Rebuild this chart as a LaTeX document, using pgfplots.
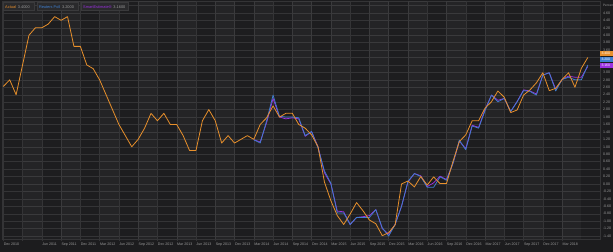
\documentclass[border=0pt]{standalone}
\usepackage{fontspec}
\setmainfont{Liberation Sans}
\usepackage{pgfplots}
\usepackage{pgfplotstable}
\pgfplotsset{compat=1.18}
\definecolor{outerbg}{HTML}{1C1C1E}
\definecolor{banddark}{HTML}{1D1D1F}
\definecolor{gridc}{HTML}{343436}
\definecolor{tickc}{HTML}{9A9A9A}
\definecolor{actual}{HTML}{E8902C}
\definecolor{poll}{HTML}{3F7FD0}
\definecolor{smart}{HTML}{9B30E0}
\definecolor{legbg}{HTML}{2A2A2C}
\definecolor{legbd}{HTML}{3A3A3C}

\pgfplotstableread{
i v
0 2.62
1 2.80
2 2.40
3 3.20
4 4.00
5 4.20
6 4.20
7 4.30
8 4.50
9 4.40
10 4.50
11 3.70
12 3.70
13 3.20
14 3.10
15 2.80
16 2.40
17 2.00
18 1.60
19 1.30
20 1.00
21 1.20
22 1.50
23 1.90
24 1.70
25 1.90
26 1.60
27 1.60
28 1.30
29 0.90
30 0.90
31 1.70
32 2.00
33 1.70
34 1.10
35 1.30
36 1.10
37 1.20
38 1.30
39 1.20
40 1.60
41 1.78
42 2.10
43 1.80
44 1.90
45 1.90
46 1.60
47 1.50
48 1.32
49 1.00
50 0.05
51 -0.45
52 -0.85
53 -1.09
54 -0.81
55 -0.50
56 -0.72
57 -0.97
58 -1.07
59 -1.39
60 -1.31
61 -1.10
62 0.00
63 0.08
64 -0.08
65 0.20
66 -0.03
67 0.19
68 0.01
69 0.01
70 0.60
71 1.14
72 1.32
73 1.70
74 1.70
75 2.04
76 2.21
77 2.50
78 2.33
79 1.92
80 1.99
81 2.39
82 2.53
83 2.72
84 2.99
85 2.51
86 2.57
87 2.81
88 2.99
89 2.60
90 3.11
91 3.40
}\actualtab

\pgfplotstableread{
i v
39 1.19
40 1.10
41 1.70
42 2.39
43 1.82
44 1.80
45 1.80
46 1.78
47 1.30
48 1.41
49 0.97
50 0.35
51 0.02
52 -0.78
53 -0.78
54 -1.09
55 -0.90
56 -0.90
57 -0.90
58 -0.69
59 -1.18
60 -1.40
61 -1.09
62 -0.60
63 0.07
64 0.28
65 0.20
66 -0.09
67 -0.09
68 0.19
69 0.10
70 0.55
71 1.18
72 0.92
73 1.56
74 1.50
75 1.97
76 2.39
77 2.21
78 2.30
79 1.95
80 2.21
81 2.51
82 2.49
83 2.39
84 2.93
85 2.99
86 2.50
87 2.81
88 2.87
89 2.80
90 2.80
91 3.20
}\polltab

\pgfplotstableread{
i v
39 1.19
40 1.13
41 1.65
42 2.30
43 1.80
44 1.75
45 1.78
46 1.75
47 1.28
48 1.41
49 1.00
50 0.30
51 0.00
52 -0.73
53 -0.75
54 -1.09
55 -0.90
56 -0.88
57 -0.85
58 -0.69
59 -1.20
60 -1.35
61 -1.09
62 -0.60
63 0.05
64 0.28
65 0.22
66 -0.07
67 0.03
68 0.21
69 0.12
70 0.55
71 1.15
72 0.95
73 1.58
74 1.52
75 2.00
76 2.39
77 2.25
78 2.30
79 1.95
80 2.22
81 2.53
82 2.50
83 2.42
84 2.93
85 2.99
86 2.55
87 2.81
88 2.90
89 2.87
90 2.87
91 3.16
}\smarttab

\begin{document}
\begin{tikzpicture}
\fill[outerbg] (0,0) rectangle (613bp,252bp);
\begin{axis}[
  at={(2bp,13bp)}, anchor=south west,
  scale only axis, width=598bp, height=238bp,
  xmin=-0.2, xmax=92.9, ymin=-1.48, ymax=4.92,
  axis background/.style={fill=banddark},
  axis line style={draw=gridc, line width=0.4bp},
  xmajorgrids, ymajorgrids,
  grid style={draw=gridc, line width=0.4bp},
  xtick={0,3,...,87},
  xticklabels={Dec 2010,,Jun 2011,Sep 2011,Dec 2011,Mar 2012,Jun 2012,Sep 2012,Dec 2012,Mar 2013,Jun 2013,Sep 2013,Dec 2013,Mar 2014,Jun 2014,Sep 2014,Dec 2014,Mar 2015,Jun 2015,Sep 2015,Dec 2015,Mar 2016,Jun 2016,Sep 2016,Dec 2016,Mar 2017,Jun 2017,Sep 2017,Dec 2017,Mar 2018},
  xtick pos=bottom, tick align=outside, major tick length=1.5bp,
  xtick style={draw=gridc, line width=0.4bp},
  xticklabel style={anchor=north west, inner sep=0pt, yshift=-2.2bp, xshift=0.3bp, font=\fontsize{3.6bp}{4bp}\selectfont, text=tickc},
  ytick={-1.4,-1.2,-1,-0.8,-0.6,-0.4,-0.2,0,0.2,0.4,0.6,0.8,1,1.2,1.4,1.6,1.8,2,2.2,2.4,2.6,2.8,3,3.2,3.4,3.6,3.8,4,4.2,4.4,4.6,4.8},
  yticklabels={-1.40,-1.20,-1.00,-0.80,-0.60,-0.40,-0.20,0.00,0.20,0.40,0.60,0.80,1.00,1.20,1.40,1.60,1.80,2.00,2.20,2.40,2.60,2.80,3.00,,,3.60,3.80,4.00,4.20,4.40,4.60,{\fontsize{3.2bp}{4bp}\selectfont Percent}},
  yticklabel pos=right,
  ytick style={draw=none},
  yticklabel style={anchor=west, inner sep=0pt, xshift=1.3bp, font=\fontsize{3.6bp}{4bp}\selectfont, text=tickc},
  clip=true,
]
\fill[white, fill opacity=0.03] (axis cs:3,-1.48) rectangle (axis cs:6,4.92);
\fill[white, fill opacity=0.03] (axis cs:9,-1.48) rectangle (axis cs:12,4.92);
\fill[white, fill opacity=0.03] (axis cs:15,-1.48) rectangle (axis cs:18,4.92);
\fill[white, fill opacity=0.03] (axis cs:21,-1.48) rectangle (axis cs:24,4.92);
\fill[white, fill opacity=0.03] (axis cs:27,-1.48) rectangle (axis cs:30,4.92);
\fill[white, fill opacity=0.03] (axis cs:33,-1.48) rectangle (axis cs:36,4.92);
\fill[white, fill opacity=0.03] (axis cs:39,-1.48) rectangle (axis cs:42,4.92);
\fill[white, fill opacity=0.03] (axis cs:45,-1.48) rectangle (axis cs:48,4.92);
\fill[white, fill opacity=0.03] (axis cs:51,-1.48) rectangle (axis cs:54,4.92);
\fill[white, fill opacity=0.03] (axis cs:57,-1.48) rectangle (axis cs:60,4.92);
\fill[white, fill opacity=0.03] (axis cs:63,-1.48) rectangle (axis cs:66,4.92);
\fill[white, fill opacity=0.03] (axis cs:69,-1.48) rectangle (axis cs:72,4.92);
\fill[white, fill opacity=0.03] (axis cs:75,-1.48) rectangle (axis cs:78,4.92);
\fill[white, fill opacity=0.03] (axis cs:81,-1.48) rectangle (axis cs:84,4.92);
\fill[white, fill opacity=0.03] (axis cs:87,-1.48) rectangle (axis cs:90,4.92);
\addplot[smart, line width=0.75bp, line join=round] table[x=i,y=v]{\smarttab};
\addplot[poll, line width=0.75bp, line join=round] table[x=i,y=v]{\polltab};
\addplot[actual, line width=0.8bp, line join=round] table[x=i,y=v]{\actualtab};
\end{axis}
% legend boxes
\begin{scope}[every node/.style={inner sep=0pt, font=\fontsize{3.9bp}{4.5bp}\selectfont}]
\draw[legbd, fill=legbg, line width=0.4bp] (3.3bp,241.3bp) rectangle (34.5bp,249.3bp);
\node[anchor=west] at (5bp,245.3bp) {\textcolor{actual}{Actual}\hspace{1.8bp}\textcolor{tickc}{3.4000}};
\draw[legbd, fill=legbg, line width=0.4bp] (36.7bp,241.3bp) rectangle (78.3bp,249.3bp);
\node[anchor=west] at (38.8bp,245.3bp) {\textcolor{poll}{Reuters Poll}\hspace{1.8bp}\textcolor{tickc}{3.2000}};
\draw[legbd, fill=legbg, line width=0.4bp] (81bp,241.3bp) rectangle (128.3bp,249.3bp);
\node[anchor=west] at (83bp,245.3bp) {\textcolor{smart}{SmartEstimate®}\hspace{1.8bp}\textcolor{tickc}{3.1600}};
% right value boxes
\fill[actual] (600.3bp,196bp) rectangle (613bp,201.3bp);
\node[anchor=west, text=white] at (601.3bp,198.6bp) {\fontsize{3.4bp}{4bp}\selectfont 3.400};
\fill[poll] (600.3bp,190bp) rectangle (613bp,195.3bp);
\node[anchor=west, text=white] at (601.3bp,192.6bp) {\fontsize{3.4bp}{4bp}\selectfont 3.200};
\fill[smart] (600.3bp,183.7bp) rectangle (613bp,189.3bp);
\node[anchor=west, text=white] at (601.3bp,186.5bp) {\fontsize{3.4bp}{4bp}\selectfont 3.160};
\end{scope}
\pgfresetboundingbox
\path (0,0) rectangle (613bp,252bp);
\end{tikzpicture}
\end{document}
